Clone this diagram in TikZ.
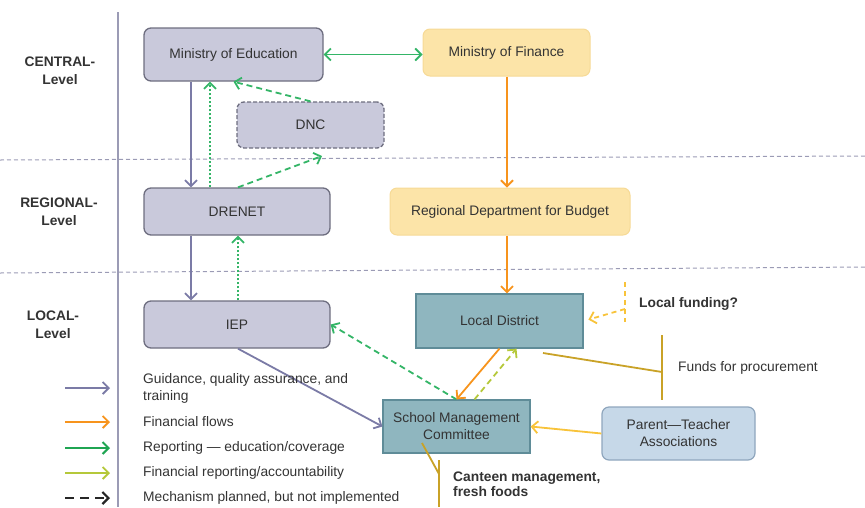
\documentclass[tikz,border=0pt]{standalone}
\usepackage{fontspec}
\setmainfont{Liberation Sans}
\usetikzlibrary{arrows.meta}

\definecolor{eduFill}{HTML}{C9C9DB}
\definecolor{eduDraw}{HTML}{6E6E80}
\definecolor{finFill}{HTML}{FCE4A8}
\definecolor{finDraw}{HTML}{F6DA96}
\definecolor{localFill}{HTML}{8FB6BF}
\definecolor{localDraw}{HTML}{5F8C98}
\definecolor{ptaFill}{HTML}{C6D8E8}
\definecolor{ptaDraw}{HTML}{8FA6BD}
\definecolor{guideCol}{HTML}{7B7BA6}
\definecolor{finCol}{HTML}{F7941D}
\definecolor{reportCol}{HTML}{34B567}
\definecolor{legendRepCol}{HTML}{1FA552}
\definecolor{finRepCol}{HTML}{B5C83A}
\definecolor{fundCol}{HTML}{F8C33A}
\definecolor{oliveCol}{HTML}{C9A227}
\definecolor{levelCol}{HTML}{9B9BB5}
\definecolor{textCol}{HTML}{333333}

\tikzset{
	txt/.style={font=\fontsize{13.8}{17}\selectfont, text=textCol, inner sep=1pt},
	boldTxt/.style={txt, font=\fontsize{13.8}{15}\selectfont\bfseries, align=left},
	levelTxt/.style={txt, font=\fontsize{13.8}{18}\selectfont\bfseries, align=center},
	eduBox/.style={txt, draw=eduDraw, fill=eduFill, rounded corners=7pt, line width=1.3pt, align=center},
	finBox/.style={txt, draw=finDraw, fill=finFill, rounded corners=7pt, line width=1pt, align=center},
	localBox/.style={txt, draw=localDraw, fill=localFill, line width=1.2pt, align=center},
	ptaBox/.style={txt, draw=ptaDraw, fill=ptaFill, rounded corners=7pt, line width=1.2pt, align=center},
	levelLine/.style={draw=levelCol, line width=1pt, dash pattern=on 4pt off 3pt},
	guideArrow/.style={->, draw=guideCol, line width=1.8pt},
	finArrow/.style={->, draw=finCol, line width=1.8pt},
	reportArrow/.style={->, draw=reportCol, line width=1.8pt},
	legendRepArrow/.style={->, draw=legendRepCol, line width=2pt},
	finRepArrow/.style={->, draw=finRepCol, line width=1.8pt},
	planArrow/.style={->, draw=black!85, line width=2.2pt, dash pattern=on 9pt off 6pt},
	dashLine/.style={dash pattern=on 6pt off 4pt},
	dotLine/.style={dash pattern=on 2pt off 2pt},
	fundLine/.style={draw=oliveCol, line width=1.8pt}
}

\begin{document}
\begin{tikzpicture}[x=1pt, y=-1pt, >={Straight Barb[length=6pt,width=12pt]}]
	\useasboundingbox (0,0) rectangle (865,507);
	\def\boxH{47}
	\def\colW{186}
	
	%columns of the vertical flows
	\coordinate (guideX) at (191,0);
	\coordinate (repTopX) at (210,0);
	\coordinate (repLowX) at (238,0);
	\coordinate (finX) at (507,0);
	
	%level separators
	\draw[levelLine] (0,160) -- (865,156);
	\draw[levelLine] (0,273) -- (865,267);
	\draw[draw=levelCol, line width=1.2pt] (118,12) -- (118,507);
	
	%level names
	\node[levelTxt] (centralLvl) at (60,71) {CENTRAL-\\Level};
	\node[levelTxt] (regionalLvl) at (59,211.5) {REGIONAL-\\Level};
	\node[levelTxt] (localLvl) at (53,325) {LOCAL-\\Level};
	
	%education side
	\node[eduBox, minimum width=179pt, minimum height=53pt] (moe) at (233.5,54.5) {Ministry of Education};
	\node[eduBox, dash pattern=on 4pt off 2pt, minimum width=147pt, minimum height=46pt] (dnc) at (310.5,125) {DNC};
	\node[eduBox, minimum width=\colW pt, minimum height=\boxH pt] (drenet) at (237,211.5) {DRENET};
	\node[eduBox, minimum width=\colW pt, minimum height=\boxH pt] (iep) at (237,324.5) {IEP};
	
	%finance side
	\node[finBox, minimum width=167pt, minimum height=\boxH pt] (mof) at (506.5,52.5) {Ministry of Finance};
	\node[finBox, minimum width=240pt, minimum height=\boxH pt] (rdb) at (510,211.5) {Regional Department for Budget};
	
	%local actors
	\node[localBox, minimum width=167pt, minimum height=54pt] (district) at (499.5,321) {Local District};
	\node[localBox, minimum width=147pt, minimum height=53pt] (smc) at (456.5,426.5) {School Management\\Committee};
	\node[ptaBox, minimum width=153pt, minimum height=53pt] (pta) at (678.5,433.5) {Parent—Teacher\\Associations};
	
	%central level
	\draw[reportArrow, <->] (moe.east) -- (moe.east -| mof.west);
	\draw[finArrow] (mof.south -| finX) -- (rdb.north -| finX);
	\draw[reportArrow, dashLine] (dnc.north) -- (moe.south);
	
	%regional level
	\coordinate (dncIn) at (322,156);
	\draw[guideArrow] (moe.south -| guideX) -- (drenet.north -| guideX);
	\draw[reportArrow, dotLine] (drenet.north -| repTopX) -- (moe.south -| repTopX);
	\draw[reportArrow, dashLine] (drenet.north -| repLowX) -- (dncIn);
	\draw[finArrow] (rdb.south -| finX) -- (district.north -| finX);
	
	%local level
	\draw[guideArrow] (drenet.south -| guideX) -- (iep.north -| guideX);
	\draw[reportArrow, dotLine] (iep.north -| repLowX) -- (drenet.south -| repLowX);
	\draw[guideArrow] (iep.south -| repLowX) -- (smc.west);
	\draw[reportArrow, dashLine] (smc.north) -- (iep.east);
	\draw[finArrow] (district.south) -- (smc.north);
	\draw[finRepArrow, dashLine] ([xshift=18pt]smc.north) -- ([xshift=17pt]district.south);
	\draw[->, draw=fundCol, line width=1.8pt] (pta.west) -- (smc.east);
	
	%local funding
	\coordinate (lfTop) at (625,282);
	\coordinate (lfMid) at (625,309);
	\coordinate (lfBot) at (625,322);
	\draw[draw=fundCol, line width=1.8pt, dash pattern=on 5pt off 4pt] (lfTop) -- (lfBot);
	\draw[->, draw=fundCol, line width=1.8pt, dash pattern=on 5pt off 4pt, shorten >=5pt] (lfMid) -- (district.east);
	\node[boldTxt, anchor=west] (lfLabel) at (638,304) {Local funding?};
	
	%funds for procurement
	\coordinate (fpStart) at (543,353);
	\coordinate (fpJoin) at (662,372);
	\coordinate (fpTop) at (662,335);
	\coordinate (fpBot) at (662,400);
	\draw[fundLine] (fpStart) -- (fpJoin);
	\draw[fundLine] (fpTop) -- (fpBot);
	\node[txt, anchor=west] (fpLabel) at (677,368) {Funds for procurement};
	
	%canteen
	\coordinate (ctStart) at (422,443);
	\coordinate (ctJoin) at (439,474);
	\coordinate (ctTop) at (439,460);
	\coordinate (ctBot) at (439,507);
	\draw[fundLine] (ctStart) -- (ctJoin);
	\draw[fundLine] (ctTop) -- (ctBot);
	\node[boldTxt, anchor=west] (ctLabel) at (452,484) {Canteen management,\\fresh foods};
	
	%legend
	\foreach \y/\sty/\name/\lbl in {388/guideArrow/lgGuide/{Guidance, quality assurance, and\\training},
		422/finArrow/lgFin/{Financial flows},
		448/legendRepArrow/lgReport/{Reporting — education/coverage},
		473/finRepArrow/lgFinRep/{Financial reporting/accountability},
		498/planArrow/lgPlan/{Mechanism planned, but not implemented}}{
		\coordinate (\name Start) at (65,\y);
		\coordinate (\name End) at (110,\y);
		\draw[\sty] (\name Start) -- (\name End);
		\node[txt, anchor=west, align=left] (\name Text) at (142,\y) {\lbl};
	}
	
\end{tikzpicture}
\end{document}
